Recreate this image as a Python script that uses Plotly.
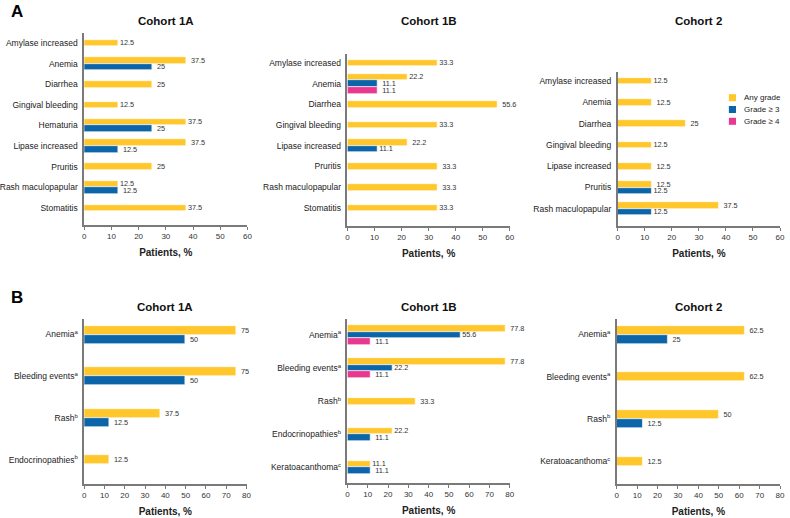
import plotly.graph_objects as go

# ---------------- data ----------------
series_names = ["Any grade", "Grade ≥ 3", "Grade ≥ 4"]
series_colors = ["#FFC72C", "#0C64A9", "#E8388F"]

a1a_cats = ["Amylase increased", "Anemia", "Diarrhea", "Gingival bleeding", "Hematuria",
            "Lipase increased", "Pruritis", "Rash maculopapular", "Stomatitis"]
a1a_any = [12.5, 37.5, 25, 12.5, 37.5, 37.5, 25, 12.5, 37.5]
a1a_g3 = [None, 25, None, None, 25, 12.5, None, 12.5, None]
a1a_g4 = [None] * 9

a1b_cats = ["Amylase increased", "Anemia", "Diarrhea", "Gingival bleeding",
            "Lipase increased", "Pruritis", "Rash maculopapular", "Stomatitis"]
a1b_any = [33.3, 22.2, 55.6, 33.3, 22.2, 33.3, 33.3, 33.3]
a1b_g3 = [None, 11.1, None, None, 11.1, None, None, None]
a1b_g4 = [None, 11.1, None, None, None, None, None, None]

a2_cats = ["Amylase increased", "Anemia", "Diarrhea", "Gingival bleeding",
           "Lipase increased", "Pruritis", "Rash maculopapular"]
a2_any = [12.5, 12.5, 25, 12.5, 12.5, 12.5, 37.5]
a2_g3 = [None, None, None, None, None, 12.5, 12.5]
a2_g4 = [None] * 7

b1a_cats = ["Anemia<sup>a</sup>", "Bleeding events<sup>a</sup>", "Rash<sup>b</sup>",
            "Endocrinopathies<sup>b</sup>"]
b1a_any = [75, 75, 37.5, 12.5]
b1a_g3 = [50, 50, 12.5, None]
b1a_g4 = [None] * 4

b1b_cats = ["Anemia<sup>a</sup>", "Bleeding events<sup>a</sup>", "Rash<sup>b</sup>",
            "Endocrinopathies<sup>b</sup>", "Keratoacanthoma<sup>c</sup>"]
b1b_any = [77.8, 77.8, 33.3, 22.2, 11.1]
b1b_g3 = [55.6, 22.2, None, 11.1, 11.1]
b1b_g4 = [11.1, 11.1, None, None, None]

b2_cats = ["Anemia<sup>a</sup>", "Bleeding events<sup>a</sup>", "Rash<sup>b</sup>",
           "Keratoacanthoma<sup>c</sup>"]
b2_any = [62.5, 62.5, 50, 12.5]
b2_g3 = [25, None, 12.5, None]
b2_g4 = [None] * 4

panel_titles = ["Cohort 1A", "Cohort 1B", "Cohort 2", "Cohort 1A", "Cohort 1B", "Cohort 2"]
x_ticks_a = [0, 10, 20, 30, 40, 50, 60]
x_ticks_b = [0, 10, 20, 30, 40, 50, 60, 70, 80]
axis_title = "Patients, %"

# ---------------- layout (pixels) ----------------
W, H = 790, 518
FONT = "Arial, Liberation Sans, sans-serif"
AXIS_GREY = "#7a7a7a"
panels = [
    dict(cats=a1a_cats, vals=[a1a_any, a1a_g3, a1a_g4], xmax=60, ticks=x_ticks_a,
         box=(82, 247, 33, 225), c0=43, sp=20.6, bar=6.6, title_y=21),
    dict(cats=a1b_cats, vals=[a1b_any, a1b_g3, a1b_g4], xmax=60, ticks=x_ticks_a,
         box=(348, 512, 54, 226), c0=63, sp=20.7, bar=6.6, title_y=21),
    dict(cats=a2_cats, vals=[a2_any, a2_g3, a2_g4], xmax=60, ticks=x_ticks_a,
         box=(621, 785, 72, 226), c0=81, sp=21.3, bar=6.6, title_y=21),
    dict(cats=b1a_cats, vals=[b1a_any, b1a_g3, b1a_g4], xmax=80, ticks=x_ticks_b,
         box=(82, 246, 319, 484), c0=334.5, sp=41.8, bar=9.0, title_y=307),
    dict(cats=b1b_cats, vals=[b1b_any, b1b_g3, b1b_g4], xmax=80, ticks=x_ticks_b,
         box=(348, 512, 319, 483), c0=335, sp=33.1, bar=6.6, title_y=307),
    dict(cats=b2_cats, vals=[b2_any, b2_g3, b2_g4], xmax=80, ticks=x_ticks_b,
         box=(620, 785, 319, 484), c0=334.5, sp=42.2, bar=9.0, title_y=307),
]

fig = go.Figure()
annotations = []
shapes = []

for p_i, p in enumerate(panels):
    n = p_i + 1
    xa = "x" if n == 1 else f"x{n}"
    ya = "y" if n == 1 else f"y{n}"
    x0, x1, yt, yb = p["box"]
    step = p["bar"] / p["sp"]
    ncat = len(p["cats"])
    # bar positions: centre the present bars of each category on the category position
    ypos = [[None] * ncat for _ in range(3)]
    for i in range(ncat):
        present = [k for k in range(3) if p["vals"][k][i] is not None]
        m = len(present)
        for j, k in enumerate(present):
            ypos[k][i] = i + (j - (m - 1) / 2) * step
    for k in range(3):
        xs = [v for v in p["vals"][k] if v is not None]
        ys = [ypos[k][i] for i in range(ncat) if p["vals"][k][i] is not None]
        if not xs:
            continue
        fig.add_trace(go.Bar(
            x=xs, y=ys, orientation="h", width=step,
            marker=dict(color=series_colors[k], line=dict(color="white", width=0.6)),
            text=["\u00a0" + f"{v:g}" for v in xs], textposition="outside",
            textfont=dict(size=7.3, color="#333333", family=FONT),
            constraintext="none", cliponaxis=False,
            name=series_names[k], showlegend=False,
            xaxis=xa, yaxis=ya, hoverinfo="x+name",
        ))
    top_u = (yt - p["c0"]) / p["sp"]
    bot_u = (yb - p["c0"]) / p["sp"]
    key = "" if n == 1 else str(n)
    fig.layout["xaxis" + key] = dict(
        domain=[x0 / W, x1 / W], anchor=ya, range=[0, p["xmax"]],
        tickvals=p["ticks"], ticks="outside", ticklen=3, tickcolor=AXIS_GREY,
        showline=True, linecolor=AXIS_GREY, linewidth=1.5, showgrid=False, zeroline=False,
        tickfont=dict(size=8, color="#333333", family=FONT),
        title=dict(text=f"<b>{axis_title}</b>", font=dict(size=10, color="#222222", family=FONT),
                   standoff=9),
    )
    fig.layout["yaxis" + key] = dict(
        domain=[1 - yb / H, 1 - yt / H], anchor=xa, range=[bot_u, top_u],
        tickvals=list(range(ncat)), ticktext=p["cats"], ticks="",
        showline=True, linecolor=AXIS_GREY, linewidth=1.5, showgrid=False, zeroline=False,
        tickfont=dict(size=8.5, color="#222222", family=FONT), ticklabelstandoff=3,
    )
    annotations.append(dict(
        text=f"<b>{panel_titles[p_i]}</b>", x=(x0 + x1) / 2 / W, y=1 - p["title_y"] / H,
        xref="paper", yref="paper", showarrow=False, xanchor="center", yanchor="middle",
        font=dict(size=11.5, color="#111111", family=FONT),
    ))

# panel letters
for letter, ypx in [("A", 12), ("B", 297)]:
    annotations.append(dict(
        text=f"<b>{letter}</b>", x=14 / W, y=1 - ypx / H, xref="paper", yref="paper",
        showarrow=False, xanchor="center", yanchor="middle",
        font=dict(size=17, color="#000000", family=FONT),
    ))

# legend (manual, in Cohort 2 of panel A)
for k, name in enumerate(series_names):
    cy = 97.7 + k * 11.8
    shapes.append(dict(type="rect", xref="paper", yref="paper",
                       x0=733.3 / W, x1=740.5 / W, y0=1 - (cy + 3.5) / H, y1=1 - (cy - 3.5) / H,
                       fillcolor=series_colors[k], line=dict(width=0)))
    annotations.append(dict(
        text=name, x=746.5 / W, y=1 - cy / H, xref="paper", yref="paper", showarrow=False,
        xanchor="left", yanchor="middle", font=dict(size=8, color="#222222", family=FONT),
    ))

fig.update_layout(
    width=W, height=H, autosize=False,
    margin=dict(l=0, r=0, t=0, b=0),
    paper_bgcolor="white", plot_bgcolor="white",
    barmode="overlay", bargap=0,
    annotations=annotations, shapes=shapes,
    font=dict(family=FONT),
)

fig.write_html("out.html", config={"displayModeBar": False},
               post_script="document.body.style.margin='0';document.body.style.overflow='hidden';")
